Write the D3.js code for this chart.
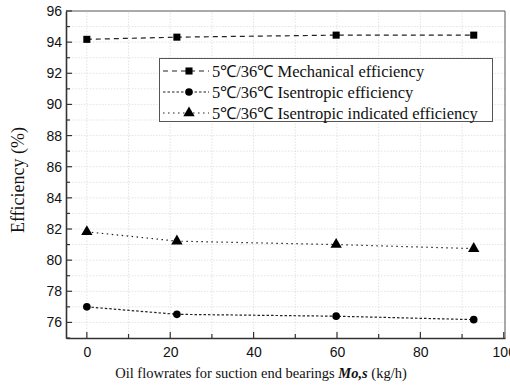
<!DOCTYPE html>
<html>
<head>
<meta charset="utf-8">
<script src="https://cdn.jsdelivr.net/npm/d3@7/dist/d3.min.js"></script>
<style>
  html, body { margin: 0; padding: 0; background: #fff; }
  svg { display: block; }
</style>
</head>
<body>
<script>
// Oil flow rate for the suction-end bearings (kg/h)
const oilFlow = [0, 21.6, 59.8, 92.8];
// Efficiencies (%) at 5°C / 36°C
const mechanical = [94.18, 94.32, 94.45, 94.45];
const isentropic = [77.0, 76.52, 76.4, 76.18];
const indicated = [81.82, 81.22, 81.0, 80.74];

const seriesNames = [
  "5\u2103/36\u2103 Mechanical efficiency",
  "5\u2103/36\u2103 Isentropic efficiency",
  "5\u2103/36\u2103 Isentropic indicated efficiency"
];
const xTicks = [0, 20, 40, 60, 80, 100];
const yTicks = [76, 78, 80, 82, 84, 86, 88, 90, 92, 94, 96];

const W = 510, H = 387;
const m = { left: 66, right: 5, top: 11, bottom: 49 };

const svg = d3.select("body").append("svg").attr("width", W).attr("height", H);

const x = d3.scaleLinear().domain([-5, 100.3]).range([m.left, W - m.right]);
const y = d3.scaleLinear().domain([75, 96]).range([H - m.bottom, m.top]);

const minorX = d3.range(0, 101, 10);
const minorY = d3.range(75, 96.1, 1);

// light dotted grid at every tick
const grid = svg.append("g");
grid.selectAll("line.gx").data(minorX.filter(v => v > -5 && v < 100)).join("line")
  .attr("x1", d => x(d)).attr("x2", d => x(d))
  .attr("y1", y(75)).attr("y2", y(96))
  .attr("stroke", "#dcdcdc").attr("stroke-width", 0.8).attr("stroke-dasharray", "1.5,1.5");
grid.selectAll("line.gy").data(minorY.filter(v => v > 75 && v < 96)).join("line")
  .attr("x1", x(-5)).attr("x2", x(100.3))
  .attr("y1", d => y(d)).attr("y2", d => y(d))
  .attr("stroke", "#dcdcdc").attr("stroke-width", 0.8).attr("stroke-dasharray", "1.5,1.5");

// top/right frame
svg.append("path")
  .attr("d", `M${x(-5)},${y(96)}H${x(100.3)}V${y(75)}`)
  .attr("fill", "none").attr("stroke", "#555").attr("stroke-width", 1);

// axes with inward ticks
const tickFont = "'Liberation Sans', Arial, sans-serif";
const xAxis = svg.append("g").attr("transform", `translate(0,${y(75)})`)
  .call(d3.axisBottom(x).tickValues(xTicks).tickSize(0).tickPadding(9).tickFormat(d3.format("d")));
xAxis.select(".domain").attr("stroke", "#333").attr("stroke-width", 1.6);
xAxis.selectAll("text").attr("font-family", tickFont).attr("font-size", 14).attr("fill", "#111");
xAxis.selectAll(".tk").data(minorX).join("line")
  .attr("x1", d => x(d)).attr("x2", d => x(d))
  .attr("y1", 0).attr("y2", d => d % 20 === 0 ? -6 : -4)
  .attr("stroke", "#333").attr("stroke-width", 1.2);

const yAxis = svg.append("g").attr("transform", `translate(${x(-5)},0)`)
  .call(d3.axisLeft(y).tickValues(yTicks).tickSize(0).tickPadding(4).tickFormat(d3.format("d")));
yAxis.select(".domain").attr("stroke", "#333").attr("stroke-width", 1.6);
yAxis.selectAll("text").attr("font-family", tickFont).attr("font-size", 14).attr("fill", "#111");
yAxis.selectAll(".tk").data(minorY).join("line")
  .attr("y1", d => y(d)).attr("y2", d => y(d))
  .attr("x1", 0).attr("x2", d => d % 2 === 0 ? 6 : 4)
  .attr("stroke", "#333").attr("stroke-width", 1.2);

// axis titles
const serif = "'Liberation Serif', 'Times New Roman', serif";
const xt = svg.append("text").attr("x", 261).attr("y", 378).attr("text-anchor", "middle")
  .attr("font-family", serif).attr("font-size", 14.5).attr("fill", "#111");
xt.append("tspan").text("Oil flowrates for suction end bearings ");
xt.append("tspan").attr("font-weight", "bold").attr("font-style", "italic").text("Mo,s");
xt.append("tspan").text(" (kg/h)");

svg.append("text").attr("transform", "translate(24,180) rotate(-90)")
  .attr("text-anchor", "middle").attr("font-family", serif).attr("font-size", 18)
  .attr("fill", "#111").text("Efficiency (%)");

// series
const series = [
  { values: mechanical, dash: "5,4", shape: d3.symbolSquare, size: 50 },
  { values: isentropic, dash: "2.5,2", shape: d3.symbolCircle, size: 46 },
  { values: indicated, dash: "1.5,3.5", shape: d3.symbolTriangle, size: 56 }
];

const line = d3.line().x(d => x(d[0])).y(d => y(d[1]));

series.forEach(s => {
  const pts = oilFlow.map((v, i) => [v, s.values[i]]);
  svg.append("path").datum(pts).attr("d", line)
    .attr("fill", "none").attr("stroke", "#222").attr("stroke-width", 1.2)
    .attr("stroke-dasharray", s.dash);
  svg.append("g").selectAll("path").data(pts).join("path")
    .attr("transform", d => `translate(${x(d[0])},${y(d[1])})`)
    .attr("d", d3.symbol().type(s.shape).size(s.size))
    .attr("fill", "#000");
});

// legend
const lg = svg.append("g");
lg.append("rect").attr("x", 159.5).attr("y", 58.5).attr("width", 333).attr("height", 63)
  .attr("fill", "#fff").attr("stroke", "#555").attr("stroke-width", 1);
series.forEach((s, i) => {
  const cy = 71 + i * 21;
  lg.append("line").attr("x1", 163).attr("x2", 209).attr("y1", cy).attr("y2", cy)
    .attr("stroke", "#222").attr("stroke-width", 1.2).attr("stroke-dasharray", s.dash);
  lg.append("path").attr("transform", `translate(189,${cy})`)
    .attr("d", d3.symbol().type(s.shape).size(s.size)).attr("fill", "#000");
  lg.append("text").attr("x", 212).attr("y", cy + 5.5).attr("font-family", serif)
    .attr("font-size", 16.5).attr("fill", "#111").text(seriesNames[i]);
});
</script>
</body>
</html>
